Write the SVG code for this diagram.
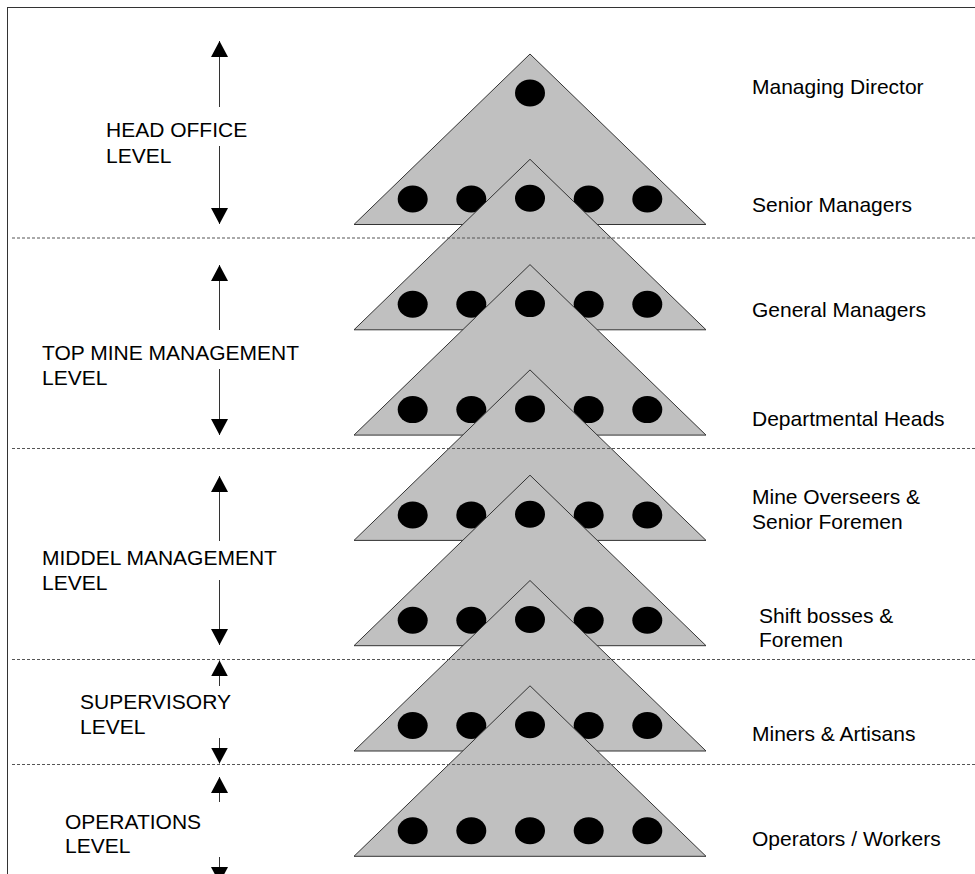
<svg xmlns="http://www.w3.org/2000/svg" width="975" height="874" viewBox="0 0 975 874">
<defs>
<style>
.tri{fill:#c0c0c0;stroke:#333;stroke-width:1}
.dot{fill:#000}
.dash{stroke:#555;stroke-width:1;stroke-dasharray:3 2;fill:none}
.arr{stroke:#333;stroke-width:1;fill:none;marker-end:url(#head)}
text{font-family:"Liberation Sans",Arial,sans-serif;font-size:21px;fill:#000}
</style>
<marker id="head" markerUnits="userSpaceOnUse" markerWidth="16" markerHeight="17" viewBox="0 0 15 16" refX="15" refY="8" orient="auto">
<path d="M0,0 L15,8 L0,16 z" fill="#000"/>
</marker>
<g id="dots5">
<ellipse class="dot" cx="-117.3" cy="0" rx="15" ry="13.5"/>
<ellipse class="dot" cx="-58.7" cy="0" rx="15" ry="13.5"/>
<ellipse class="dot" cx="0" cy="0" rx="15" ry="13.5"/>
<ellipse class="dot" cx="58.7" cy="0" rx="15" ry="13.5"/>
<ellipse class="dot" cx="117.3" cy="0" rx="15" ry="13.5"/>
</g>
</defs>
<rect x="7.5" y="7.5" width="1000" height="1000" fill="#fff" stroke="#333" stroke-width="1"/>

<g id="tri1"><polygon class="tri" points="530,54 706,224.5 354,224.5"/><ellipse class="dot" cx="530" cy="93" rx="15" ry="13.5"/><use href="#dots5" x="530" y="199"/></g>
<g id="tri2"><polygon class="tri" points="530,159.3 706,329.8 354,329.8"/><ellipse class="dot" cx="530" cy="198.3" rx="15" ry="13.5"/><use href="#dots5" x="530" y="304.3"/></g>
<g id="tri3"><polygon class="tri" points="530,264.6 706,435.1 354,435.1"/><ellipse class="dot" cx="530" cy="303.6" rx="15" ry="13.5"/><use href="#dots5" x="530" y="409.6"/></g>
<g id="tri4"><polygon class="tri" points="530,369.9 706,540.4 354,540.4"/><ellipse class="dot" cx="530" cy="408.9" rx="15" ry="13.5"/><use href="#dots5" x="530" y="514.9"/></g>
<g id="tri5"><polygon class="tri" points="530,475.2 706,645.7 354,645.7"/><ellipse class="dot" cx="530" cy="514.2" rx="15" ry="13.5"/><use href="#dots5" x="530" y="620.2"/></g>
<g id="tri6"><polygon class="tri" points="530,580.5 706,751 354,751"/><ellipse class="dot" cx="530" cy="619.5" rx="15" ry="13.5"/><use href="#dots5" x="530" y="725.5"/></g>
<g id="tri7"><polygon class="tri" points="530,685.8 706,856.3 354,856.3"/><ellipse class="dot" cx="530" cy="724.8" rx="15" ry="13.5"/><use href="#dots5" x="530" y="830.8"/></g>

<g id="dividers">
<line class="dash" x1="12" y1="238" x2="975" y2="238"/>
<line class="dash" x1="12" y1="448.5" x2="975" y2="448.5"/>
<line class="dash" x1="12" y1="659.5" x2="975" y2="659.5"/>
<line class="dash" x1="12" y1="764.5" x2="975" y2="764.5"/>
</g>

<g id="connectors">
<line class="arr" x1="219.5" y1="107" x2="219.5" y2="41"/>
<line class="arr" x1="219.5" y1="146" x2="219.5" y2="224"/>
<line class="arr" x1="219.5" y1="330" x2="219.5" y2="265"/>
<line class="arr" x1="219.5" y1="369" x2="219.5" y2="435"/>
<line class="arr" x1="219.5" y1="541" x2="219.5" y2="476"/>
<line class="arr" x1="219.5" y1="580" x2="219.5" y2="645"/>
<line class="arr" x1="219.5" y1="686" x2="219.5" y2="660.5"/>
<line class="arr" x1="219.5" y1="738" x2="219.5" y2="763.5"/>
<line class="arr" x1="219.5" y1="802" x2="219.5" y2="777"/>
<line class="arr" x1="219.5" y1="857" x2="219.5" y2="883"/>
</g>

<g id="level-labels">
<text x="106"><tspan x="106" y="137">HEAD OFFICE</tspan><tspan x="106" y="162.5">LEVEL</tspan></text>
<text><tspan x="42" y="359.5">TOP MINE MANAGEMENT</tspan><tspan x="42" y="385">LEVEL</tspan></text>
<text><tspan x="42" y="564.5">MIDDEL MANAGEMENT</tspan><tspan x="42" y="589.5">LEVEL</tspan></text>
<text><tspan x="80" y="709">SUPERVISORY</tspan><tspan x="80" y="734">LEVEL</tspan></text>
<text><tspan x="65" y="828.5">OPERATIONS</tspan><tspan x="65" y="853">LEVEL</tspan></text>
</g>

<g id="role-labels">
<text x="752" y="94">Managing Director</text>
<text x="752" y="212">Senior Managers</text>
<text x="752" y="317">General Managers</text>
<text x="752" y="426">Departmental Heads</text>
<text><tspan x="752" y="504">Mine Overseers &amp;</tspan><tspan x="752" y="529">Senior Foremen</tspan></text>
<text><tspan x="759" y="623">Shift bosses &amp;</tspan><tspan x="759" y="647">Foremen</tspan></text>
<text x="752" y="741">Miners &amp; Artisans</text>
<text x="752" y="846">Operators / Workers</text>
</g>
</svg>
